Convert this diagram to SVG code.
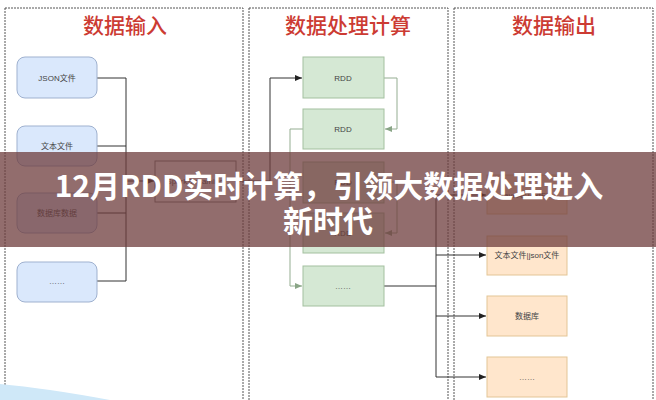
<svg xmlns="http://www.w3.org/2000/svg" width="656" height="400" viewBox="0 0 656 400">
<defs>
<style>
.col{fill:#fff;stroke:#555;stroke-width:1;stroke-dasharray:2 1}
.title{font-family:"Noto Sans CJK SC","Noto Sans",sans-serif;font-size:21px;font-weight:500;fill:#cc3b33;text-anchor:middle}
.lbl{font-family:"Liberation Sans","Noto Sans CJK SC",sans-serif;font-size:8px;fill:#444;text-anchor:middle;dominant-baseline:central}
.blue{fill:#dae8fc;stroke:#9fb1cf;stroke-width:1}
.green{fill:#d5e8d4;stroke:#a3c09f;stroke-width:1}
.orange{fill:#ffe6cc;stroke:#e3c596;stroke-width:1}
.plain{fill:#fff;stroke:#777;stroke-width:1}
.k{fill:none;stroke:#333;stroke-width:1}
.g{fill:none;stroke:#94ad91;stroke-width:1}
.banner{font-family:"Noto Sans CJK SC","Noto Sans",sans-serif;font-weight:bold;font-size:30px;fill:#fff;text-anchor:middle}
</style>
<marker id="ak" markerWidth="8" markerHeight="8" refX="7" refY="4" orient="auto" markerUnits="userSpaceOnUse"><path d="M0,1 L7,4 L0,7 Z" fill="#222"/></marker>
<marker id="ag" markerWidth="8" markerHeight="8" refX="7" refY="4" orient="auto" markerUnits="userSpaceOnUse"><path d="M0,1 L7,4 L0,7 Z" fill="#8aa587"/></marker>
</defs>
<rect width="656" height="400" fill="#fff"/>
<g id="columns">
<rect class="col" x="5" y="8" width="238" height="402"/>
<rect class="col" x="249" y="8" width="199" height="402"/>
<rect class="col" x="454" y="8" width="199" height="402"/>
<text class="title" x="125" y="33">数据输入</text>
<text class="title" x="348" y="33">数据处理计算</text>
<text class="title" x="554" y="33">数据输出</text>
</g>
<g id="connectors">
<path class="k" d="M97,78 H126 V281 H97 M97,146 H126 M97,213 H126"/>
<path class="k" d="M126,181 H154" marker-end="url(#ak)"/>
<path class="k" d="M236,181 H270 V78 H302" marker-end="url(#ak)"/>
<path class="g" d="M384,78 H397 V129 H385" marker-end="url(#ag)"/>
<path class="g" d="M303,129 H290 V286 H302" marker-end="url(#ag)"/>
<path class="g" d="M384,182 H397 V233 H385" marker-end="url(#ag)"/>
<path class="k" d="M384,286 H436 M436,195 V377"/>
<path class="k" d="M436,195 H486" marker-end="url(#ak)"/>
<path class="k" d="M436,255 H486" marker-end="url(#ak)"/>
<path class="k" d="M436,316 H486" marker-end="url(#ak)"/>
<path class="k" d="M436,377 H486" marker-end="url(#ak)"/>
</g>
<g id="in-json"><rect class="blue" x="17" y="57" width="80" height="41" rx="8"/><text class="lbl" x="57" y="78">JSON文件</text></g>
<g id="in-text"><rect class="blue" x="17" y="126" width="80" height="40" rx="8"/><text class="lbl" x="57" y="146">文本文件</text></g>
<g id="in-db"><rect class="blue" x="17" y="193" width="80" height="40" rx="8"/><text class="lbl" x="57" y="213">数据库数据</text></g>
<g id="in-more"><rect class="blue" x="17" y="262" width="80" height="40" rx="8"/><text class="lbl" x="57" y="281">……</text></g>
<g id="stream"><rect class="plain" x="155" y="161" width="81" height="41"/><text class="lbl" x="195" y="181">SparkStreaming</text></g>
<g id="rdd1"><rect class="green" x="303" y="57" width="81" height="41"/><text class="lbl" x="343" y="78">RDD</text></g>
<g id="rdd2"><rect class="green" x="303" y="109" width="81" height="40"/><text class="lbl" x="343" y="129">RDD</text></g>
<g id="rdd3"><rect class="green" x="303" y="162" width="81" height="41"/><text class="lbl" x="343" y="182">RDD</text></g>
<g id="rdd4"><rect class="green" x="303" y="213" width="81" height="40"/><text class="lbl" x="343" y="233">RDD</text></g>
<g id="rdd-more"><rect class="green" x="303" y="266" width="81" height="40"/><text class="lbl" x="343" y="286">……</text></g>
<g id="out-1"><rect class="orange" x="487" y="175" width="80" height="39"/><text class="lbl" x="527" y="195">saveAsTextFile</text></g>
<g id="out-text"><rect class="orange" x="487" y="236" width="80" height="39"/><text class="lbl" x="527" y="255">文本文件|json文件</text></g>
<g id="out-db"><rect class="orange" x="487" y="296" width="80" height="40"/><text class="lbl" x="527" y="316">数据库</text></g>
<g id="out-more"><rect class="orange" x="487" y="357" width="80" height="40"/><text class="lbl" x="527" y="377">……</text></g>
<path d="M0,384 Q45,388 110,400 L0,400 Z" fill="#cfe8f8"/>
<g id="banner">
<rect x="0" y="152" width="656" height="95" fill="rgb(110,60,60)" fill-opacity="0.75"/>
<text class="banner" x="329" y="197">12月RDD实时计算，引领大数据处理进入</text>
<text class="banner" x="328" y="232">新时代</text>
</g>
</svg>
